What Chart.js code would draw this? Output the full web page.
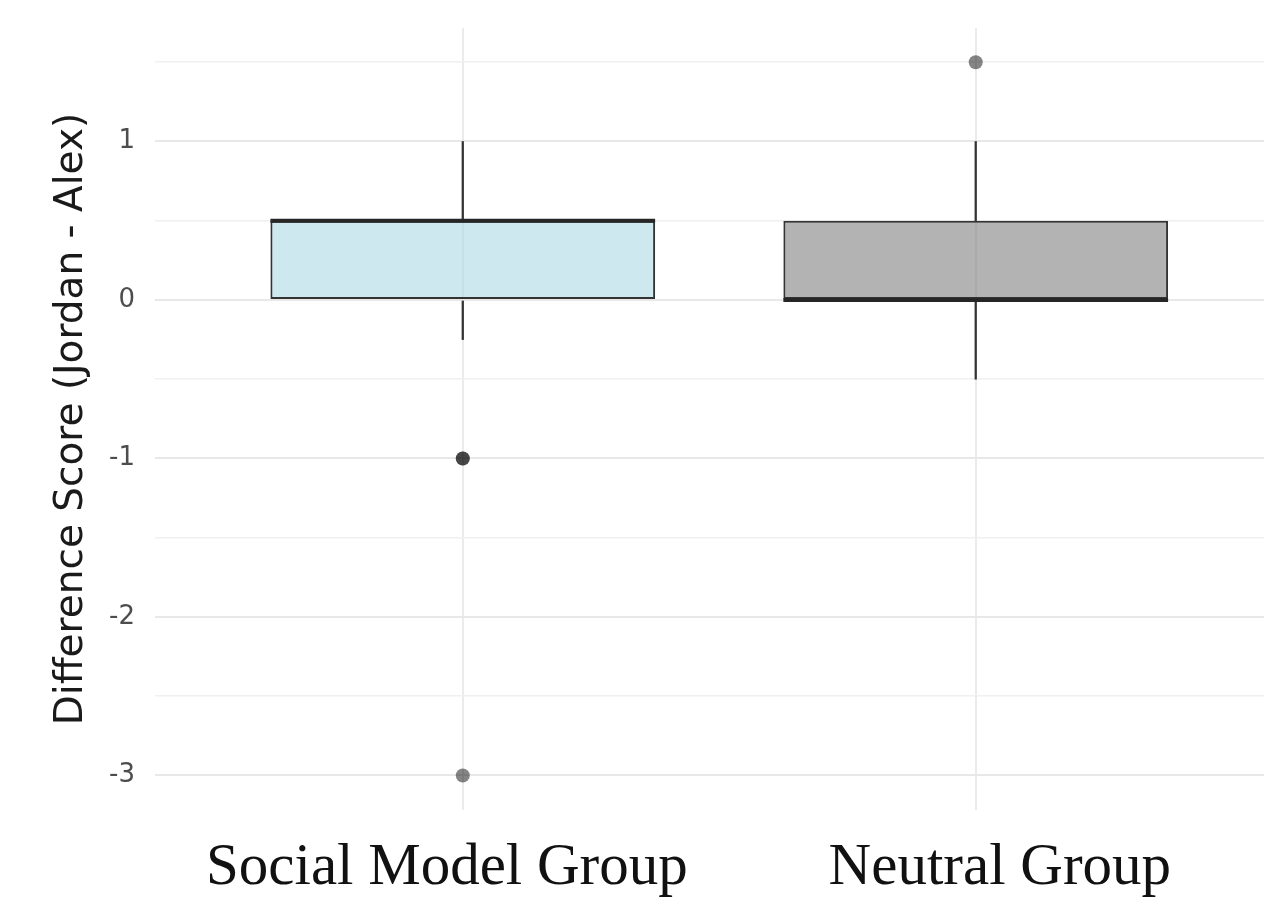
<!DOCTYPE html>
<html>
<head>
<meta charset="utf-8">
<script src="https://cdn.jsdelivr.net/npm/chart.js@4.4.1/dist/chart.umd.min.js"></script>
<style>
    html, body { margin: 0; padding: 0; background: #fff; }
    #wrap { width: 1264px; height: 906px; position: relative; }
</style>
</head>
<body>
<div id="wrap"><canvas id="cvs"></canvas></div>
<script>
'use strict';

// Box plot summary, one entry per group
const groups = ['Social Model Group', 'Neutral Group'];
const groupPos = [1, 2];
const whiskerLow = [-0.25, -0.5];
const q1 = [0, 0];
const median = [0.5, 0];
const q3 = [0.5, 0.5];
const whiskerHigh = [1, 1];
// outliers: [group position, value]; two cases overlap at -1
const outliers = [[1, -1], [1, -1], [1, -3], [2, 1.5]];

const yTicks = [-3, -2.5, -2, -1.5, -1, -0.5, 0, 0.5, 1, 1.5];

const boxFill = ['rgba(173, 216, 230, 0.6)', 'rgba(128, 128, 128, 0.6)'];
const lineCol = '#333333';

const boxes = groupPos.map((x, i) => ({ x: x, y: [q1[i], q3[i]] }));
const upper = groupPos.map((x, i) => ({ x: x, y: [q3[i], whiskerHigh[i]] }));
const lower = groupPos.map((x, i) => ({ x: x, y: [whiskerLow[i], q1[i]] }));
const points = outliers.map(o => ({ x: o[0], y: o[1] }));

// the group names sit a little off the box centres in the original
const labelShift = [-0.031, 0.047];

// draws the median line across each box, right after the boxes
const medianLines = {
    id: 'medianLines',
    afterDatasetDraw(chart, args) {
        if (args.meta.label !== 'box') {
            return;
        }
        const ctx = chart.ctx;
        const yScale = chart.scales.y;
        ctx.save();
        ctx.strokeStyle = '#262626';
        ctx.lineWidth = 4;
        args.meta.data.forEach((bar, i) => {
            const py = yScale.getPixelForValue(median[i]);
            ctx.beginPath();
            ctx.moveTo(bar.x - bar.width / 2, py);
            ctx.lineTo(bar.x + bar.width / 2, py);
            ctx.stroke();
        });
        ctx.restore();
    }
};

const config = {
    type: 'bar',
    data: {
        datasets: [
            {
                type: 'line',
                label: 'outliers',
                data: points,
                showLine: false,
                pointRadius: 7,
                pointBorderWidth: 0,
                pointBackgroundColor: 'rgba(0, 0, 0, 0.48)',
                order: 0
            },
            {
                label: 'box',
                data: boxes,
                backgroundColor: boxFill,
                borderColor: lineCol,
                borderWidth: 2,
                borderSkipped: false,
                barPercentage: 0.75,
                categoryPercentage: 1,
                grouped: false,
                order: 1
            },
            {
                label: 'upper',
                data: upper,
                backgroundColor: lineCol,
                barThickness: 1.6,
                grouped: false,
                order: 2
            },
            {
                label: 'lower',
                data: lower,
                backgroundColor: lineCol,
                barThickness: 1.6,
                grouped: false,
                order: 2
            }
        ]
    },
    options: {
        responsive: true,
        maintainAspectRatio: false,
        animation: false,
        layout: {
            autoPadding: false,
            padding: { top: 28, right: 0, bottom: 0, left: 0 }
        },
        plugins: {
            legend: { display: false },
            tooltip: { enabled: false }
        },
        scales: {
            x: {
                type: 'linear',
                min: 0.4,
                max: 2.562,
                offset: false,
                afterBuildTicks: (scale) => {
                    scale.ticks = groupPos.map(v => ({ value: v }));
                },
                afterFit: (scale) => {
                    scale.height = 0;
                    scale.paddingLeft = 0;
                    scale.paddingRight = 0;
                },
                border: { display: false },
                grid: {
                    offset: false,
                    color: '#ebebeb',
                    lineWidth: 2,
                    drawTicks: false
                },
                ticks: { display: false }
            },
            // second bottom axis that only carries the group names
            xLabels: {
                type: 'linear',
                position: 'bottom',
                min: 0.4,
                max: 2.562,
                offset: false,
                afterBuildTicks: (scale) => {
                    scale.ticks = groupPos.map((v, i) => ({ value: v + labelShift[i] }));
                },
                afterFit: (scale) => {
                    scale.height = 96;
                    scale.paddingLeft = 0;
                    scale.paddingRight = 0;
                },
                border: { display: false },
                grid: { display: false },
                ticks: {
                    padding: 15,
                    color: '#111111',
                    maxRotation: 0,
                    autoSkip: false,
                    font: { family: '"Liberation Serif", "DejaVu Serif", serif', size: 59 },
                    callback: (value, index) => groups[index]
                }
            },
            y: {
                min: -3.218,
                max: 1.716,
                afterBuildTicks: (scale) => {
                    scale.ticks = yTicks.map(v => ({ value: v }));
                },
                afterFit: (scale) => {
                    scale.width = 155;
                    scale.paddingTop = 0;
                    scale.paddingBottom = 0;
                },
                border: { display: false },
                grid: {
                    color: (c) => Number.isInteger(c.tick.value) ? '#e8e8e8' : '#f0f0f0',
                    lineWidth: (c) => Number.isInteger(c.tick.value) ? 2 : 1.6,
                    drawTicks: false
                },
                ticks: {
                    padding: 20,
                    color: '#4d4d4d',
                    font: { family: '"DejaVu Sans", sans-serif', size: 26 },
                    callback: (value) => Number.isInteger(value) ? String(value) : ''
                },
                title: {
                    display: true,
                    text: 'Difference Score (Jordan - Alex)',
                    color: '#1a1a1a',
                    padding: { top: 48, bottom: 0 },
                    font: { family: '"DejaVu Sans", sans-serif', size: 39 }
                }
            }
        }
    },
    plugins: [medianLines]
};

new Chart(document.getElementById('cvs'), config);
</script>
</body>
</html>
